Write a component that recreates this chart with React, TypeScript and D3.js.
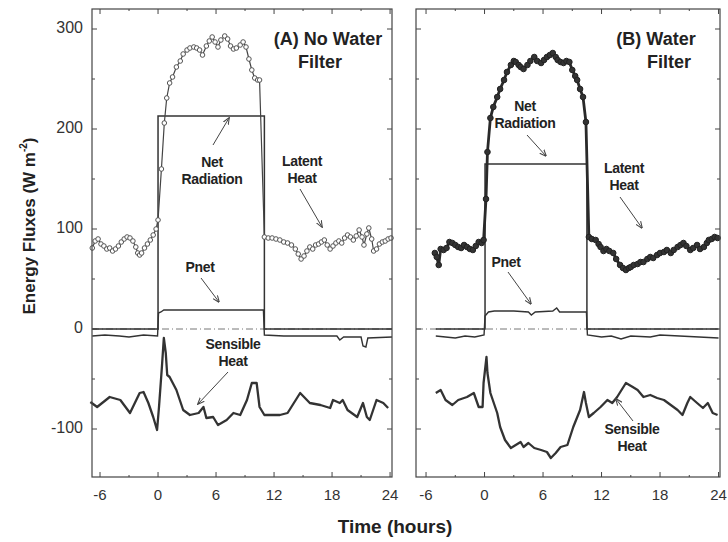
import React from "react";
import * as d3 from "d3";

// ---------- data (hours, W m-2) ----------
const latentA: [number, number][] = [
  [-6.8, 81], [-6.5, 88], [-6.2, 90], [-5.9, 85], [-5.6, 83], [-5.3, 80], [-5.0, 81], [-4.7, 78], [-4.4, 80], [-4.1, 83],
  [-3.8, 87], [-3.5, 90], [-3.2, 92], [-2.9, 91], [-2.6, 88], [-2.3, 82], [-2.1, 76], [-1.9, 74], [-1.7, 76], [-1.4, 81],
  [-1.1, 85], [-0.8, 89], [-0.5, 94], [-0.2, 100], [0.0, 109], [0.35, 160], [0.65, 206], [0.9, 231], [1.2, 246], [1.5, 252],
  [1.9, 262], [2.3, 268], [2.6, 275], [3.0, 279], [3.3, 281], [3.7, 282], [4.0, 281], [4.3, 279], [4.6, 274], [5.0, 283],
  [5.3, 288], [5.6, 292], [5.9, 287], [6.2, 282], [6.5, 289], [6.9, 293], [7.2, 290], [7.5, 283], [7.8, 280], [8.1, 281],
  [8.5, 284], [8.8, 287], [9.1, 282], [9.4, 270], [9.7, 259], [10.0, 251], [10.3, 249], [10.5, 249], [11.0, 92], [11.4, 91],
  [11.8, 91], [12.2, 90], [12.6, 89], [13.0, 87], [13.4, 86], [13.8, 84], [14.2, 80], [14.5, 75], [14.8, 70], [15.1, 73],
  [15.4, 78], [15.7, 82], [16.0, 80], [16.3, 84], [16.6, 85], [16.9, 87], [17.2, 89], [17.5, 84], [17.8, 80], [18.1, 83],
  [18.4, 86], [18.7, 88], [19.0, 86], [19.3, 91], [19.6, 94], [19.9, 92], [20.2, 89], [20.5, 93], [20.8, 99], [21.1, 92],
  [21.3, 84], [21.6, 95], [21.8, 101], [22.1, 90], [22.3, 78], [22.6, 80], [22.9, 85], [23.2, 87], [23.5, 88], [23.8, 90], [24.1, 91],
];
const sensibleA: [number, number][] = [
  [-7.0, -73], [-6.3, -78], [-5.0, -68], [-3.9, -71], [-2.9, -84], [-1.9, -64], [-1.5, -63], [-1.0, -74], [-0.5, -88], [-0.1, -101],
  [0.1, -78], [0.4, -38], [0.6, -9], [0.8, -24], [0.95, -46], [1.2, -48], [1.9, -61], [2.6, -81], [3.3, -86], [4.2, -84],
  [4.7, -78], [5.0, -89], [5.7, -88], [6.2, -96], [7.1, -91], [7.8, -84], [8.5, -86], [9.2, -71], [9.7, -54], [10.2, -54],
  [10.5, -78], [11.0, -86], [12.6, -86], [13.4, -84], [14.7, -64], [15.7, -74], [16.8, -76], [17.8, -79], [18.1, -71], [18.8, -74],
  [19.1, -71], [19.6, -81], [20.6, -88], [21.2, -74], [21.6, -88], [21.9, -91], [22.6, -71], [23.3, -74], [23.8, -79],
];
const netRadA: [number, number][] = [[-6.8, 0], [0, 0], [0, 213], [11, 213], [11, 0], [24.2, 0]];
const pnetA: [number, number][] = [
  [-6.8, -7], [-5.5, -6], [-4.0, -7], [-3.0, -8], [-1.5, -6], [-0.05, -7], [0.05, 16], [0.3, 17], [0.6, 19], [5.0, 19],
  [8.0, 19], [10.9, 19], [11.0, -6], [13.0, -7], [16.0, -7], [18.5, -7], [18.8, -11], [19.2, -8], [21.0, -8], [21.2, -17],
  [21.5, -18], [21.7, -9], [24.2, -8],
];

const latentB: [number, number][] = [
  [-5.1, 76], [-4.9, 72], [-4.7, 64], [-4.5, 80], [-4.2, 79], [-3.9, 81], [-3.6, 87], [-3.3, 86], [-3.0, 84], [-2.7, 82],
  [-2.4, 81], [-2.1, 84], [-1.8, 82], [-1.5, 80], [-1.2, 79], [-0.9, 83], [-0.6, 87], [-0.3, 86], [-0.1, 89], [0.15, 130],
  [0.3, 177], [0.6, 211], [0.9, 222], [1.3, 232], [1.6, 240], [2.0, 249], [2.3, 257], [2.7, 264], [3.0, 268], [3.2, 267],
  [3.5, 264], [3.7, 262], [4.0, 260], [4.4, 264], [4.7, 268], [5.1, 272], [5.4, 268], [5.8, 266], [6.1, 269], [6.4, 272],
  [6.7, 274], [7.0, 276], [7.3, 272], [7.5, 269], [7.8, 267], [8.1, 266], [8.4, 268], [8.7, 267], [9.0, 259], [9.3, 253],
  [9.5, 249], [9.8, 240], [10.1, 232], [10.4, 207], [10.7, 92], [11.0, 90], [11.4, 89], [11.7, 85], [11.9, 82], [12.2, 78],
  [12.5, 80], [12.8, 78], [13.2, 76], [13.5, 70], [13.9, 64], [14.2, 61], [14.5, 59], [14.8, 61], [15.0, 62], [15.3, 64],
  [15.7, 65], [16.0, 67], [16.3, 67], [16.7, 70], [17.0, 72], [17.3, 71], [17.7, 74], [18.0, 76], [18.4, 77], [18.7, 79],
  [19.1, 76], [19.4, 79], [19.8, 82], [20.1, 84], [20.4, 86], [20.7, 83], [21.1, 79], [21.4, 81], [21.8, 84], [22.1, 80],
  [22.5, 82], [22.8, 86], [23.0, 89], [23.3, 90], [23.6, 92], [23.9, 91],
];
const sensibleB: [number, number][] = [
  [-5.0, -64], [-4.5, -61], [-4.0, -71], [-3.3, -76], [-2.7, -71], [-1.8, -68], [-1.1, -64], [-0.6, -78], [-0.2, -78], [-0.1, -54],
  [0.2, -28], [0.3, -44], [0.6, -64], [1.3, -84], [1.6, -98], [2.1, -111], [2.7, -119], [3.2, -116], [3.7, -113], [4.0, -118],
  [4.5, -114], [5.1, -119], [5.8, -121], [6.4, -123], [6.8, -129], [7.3, -124], [7.8, -118], [8.5, -116], [9.1, -98], [9.8, -81],
  [10.2, -63], [10.4, -74], [10.7, -88], [11.2, -84], [11.9, -78], [12.6, -71], [13.1, -74], [13.6, -68], [14.5, -54], [15.2, -58],
  [15.7, -61], [16.3, -68], [17.0, -66], [17.7, -69], [18.4, -71], [19.1, -76], [19.8, -81], [20.3, -86], [20.8, -74], [21.1, -68],
  [21.8, -74], [22.4, -79], [22.9, -74], [23.4, -84], [23.9, -86],
];
const netRadB: [number, number][] = [[-5.0, 0], [0.05, 0], [0.05, 165], [10.5, 165], [10.5, 0], [24.0, 0]];
const pnetB: [number, number][] = [
  [-5.0, -7], [-4.0, -8], [-3.0, -9], [-2.0, -7], [-1.0, -8], [-0.05, -6], [0.05, 13], [0.4, 17], [1.0, 18], [3.0, 18],
  [4.5, 17], [4.8, 14], [5.2, 17], [7.0, 18], [7.4, 21], [7.7, 17], [10.45, 17], [10.55, -6], [12.0, -8], [13.0, -7],
  [14.0, -10], [15.0, -7], [17.0, -8], [18.0, -6], [20.0, -7], [22.0, -8], [24.0, -9],
];

const xTicks = [-6, 0, 6, 12, 18, 24];
const xMinor = [-3, 3, 9, 15, 21];
const yTicks = [300, 200, 100, 0, -100];
const yMinor = [250, 150, 50, -50];

const FONT = "Arial, 'Liberation Sans', sans-serif";
const INK = "#333";

type Ann = { lines: string[]; x: number; y: number; ax: [number, number]; bx: [number, number] };

function Panel(props: {
  x0: number; x1: number; domain: [number, number]; yScale: d3.ScaleLinear<number, number>;
  latent: [number, number][]; sensible: [number, number][]; netRad: [number, number][]; pnet: [number, number][];
  filled: boolean; title: string[]; titleX: number[]; anns: Ann[]; showY: boolean;
}) {
  const { x0, x1, yScale: y, filled } = props;
  const x = d3.scaleLinear().domain(props.domain).range([x0, x1]);
  const line = d3.line<[number, number]>().x((d) => x(d[0])).y((d) => y(d[1]));
  const [yTop, yBot] = [y(320), y(-148)];
  return (
    <g>
      <line x1={x0} x2={x1} y1={y(0)} y2={y(0)} stroke="#777" strokeWidth={1} strokeDasharray="7,3,1,3" />
      <path d={line(props.netRad)!} fill="none" stroke={INK} strokeWidth={1.5} />
      <path d={line(props.pnet)!} fill="none" stroke={INK} strokeWidth={1.4} />
      <path d={line(props.sensible)!} fill="none" stroke={INK} strokeWidth={2.3} strokeLinejoin="round" />
      <path d={line(props.latent)!} fill="none" stroke={filled ? "#2a2a2a" : "#444"} strokeWidth={filled ? 2.8 : 1.2} />
      {props.latent.map((d, i) => (
        <circle key={i} cx={x(d[0])} cy={y(d[1])} r={filled ? 2.8 : 2.3}
          fill={filled ? "#333" : "#fff"} stroke={filled ? "#222" : "#555"} strokeWidth={1} />
      ))}
      {/* frame */}
      <rect x={x0} y={yTop} width={x1 - x0} height={yBot - yTop} fill="none" stroke="#444" strokeWidth={1.2} />
      {xTicks.map((t) => (
        <g key={"xt" + t}>
          <line x1={x(t)} x2={x(t)} y1={yBot} y2={yBot - 5} stroke="#444" />
          <line x1={x(t)} x2={x(t)} y1={yTop} y2={yTop + 5} stroke="#444" />
          <text x={x(t)} y={yBot + 19} textAnchor="middle" dominantBaseline="middle" fontFamily={FONT} fontSize={15} fill={INK}>{t}</text>
        </g>
      ))}
      {xMinor.map((t) => (
        <g key={"xm" + t}>
          <line x1={x(t)} x2={x(t)} y1={yBot} y2={yBot - 2} stroke="#444" />
          <line x1={x(t)} x2={x(t)} y1={yTop} y2={yTop + 2} stroke="#444" />
        </g>
      ))}
      {yTicks.map((t) => (
        <g key={"yt" + t}>
          <line x1={x0} x2={x0 + 5} y1={y(t)} y2={y(t)} stroke="#444" />
          <line x1={x1} x2={x1 - 5} y1={y(t)} y2={y(t)} stroke="#444" />
          {props.showY && (
            <text x={x0 - 9} y={y(t)} textAnchor="end" dominantBaseline="middle" fontFamily={FONT} fontSize={16} fill={INK}>{t}</text>
          )}
        </g>
      ))}
      {yMinor.map((t) => (
        <g key={"ym" + t}>
          <line x1={x0} x2={x0 + 3} y1={y(t)} y2={y(t)} stroke="#444" />
          <line x1={x1} x2={x1 - 3} y1={y(t)} y2={y(t)} stroke="#444" />
        </g>
      ))}
      {props.title.map((s, i) => (
        <text key={"ti" + i} x={props.titleX[i]} y={y(289) + i * 23} textAnchor="middle"
          dominantBaseline="middle" fontFamily={FONT} fontWeight="bold" fontSize={18} fill="#222">{s}</text>
      ))}
      {props.anns.map((a, i) => (
        <g key={"an" + i}>
          {a.lines.map((s, j) => (
            <text key={j} x={a.x} y={a.y + j * 17} textAnchor="middle" dominantBaseline="middle"
              fontFamily={FONT} fontWeight="bold" fontSize={14} fill="#222" letterSpacing={-0.3}>{s}</text>
          ))}
          <line x1={a.ax[0]} y1={a.ax[1]} x2={a.bx[0]} y2={a.bx[1]} stroke="#444" strokeWidth={1} markerEnd="url(#arr)" />
        </g>
      ))}
    </g>
  );
}

export default function App() {
  const y = d3.scaleLinear().domain([-148, 320]).range([477, 9]);
  return (
    <svg width={728} height={542} style={{ position: "absolute", left: 0, top: 0, background: "#fff" }}>
      <defs>
        <marker id="arr" viewBox="0 0 10 10" refX={9} refY={5} markerWidth={7} markerHeight={7} orient="auto">
          <path d="M0,1 L10,5 L0,9" fill="none" stroke="#444" strokeWidth={1.5} />
        </marker>
      </defs>
      <Panel x0={92} x1={392} domain={[-6.83, 24.2]} yScale={y} latent={latentA} sensible={sensibleA}
        netRad={netRadA} pnet={pnetA} filled={false} title={["(A) No Water", "Filter"]} titleX={[328, 320]} showY={true}
        anns={[
          { lines: ["Net", "Radiation"], x: 212, y: 163, ax: [213, 145], bx: [229, 118] },
          { lines: ["Latent", "Heat"], x: 302, y: 162, ax: [300, 189], bx: [322, 227] },
          { lines: ["Pnet"], x: 200, y: 268, ax: [201, 278], bx: [219, 302] },
          { lines: ["Sensible", "Heat"], x: 233, y: 345, ax: [228, 372], bx: [198, 404] },
        ]} />
      <Panel x0={416} x1={720} domain={[-7.03, 24.15]} yScale={y} latent={latentB} sensible={sensibleB}
        netRad={netRadB} pnet={pnetB} filled={true} title={["(B) Water", "Filter"]} titleX={[656, 669]} showY={false}
        anns={[
          { lines: ["Net", "Radiation"], x: 525, y: 107, ax: [527, 135], bx: [546, 156] },
          { lines: ["Latent", "Heat"], x: 624, y: 169, ax: [620, 197], bx: [642, 228] },
          { lines: ["Pnet"], x: 506, y: 263, ax: [508, 272], bx: [531, 304] },
          { lines: ["Sensible", "Heat"], x: 632, y: 430, ax: [633, 421], bx: [616, 399] },
        ]} />
      <text transform="translate(31,226) rotate(-90)" textAnchor="middle" dominantBaseline="middle"
        fontFamily={FONT} fontWeight="bold" fontSize={17} fill="#222">
        Energy Fluxes (W m<tspan fontSize={10} dy={-7}>-2</tspan><tspan dy={7}>)</tspan>
      </text>
      <text x={395} y={533} textAnchor="middle" fontFamily={FONT} fontWeight="bold"
        fontSize={19} fill="#222">Time (hours)</text>
    </svg>
  );
}
